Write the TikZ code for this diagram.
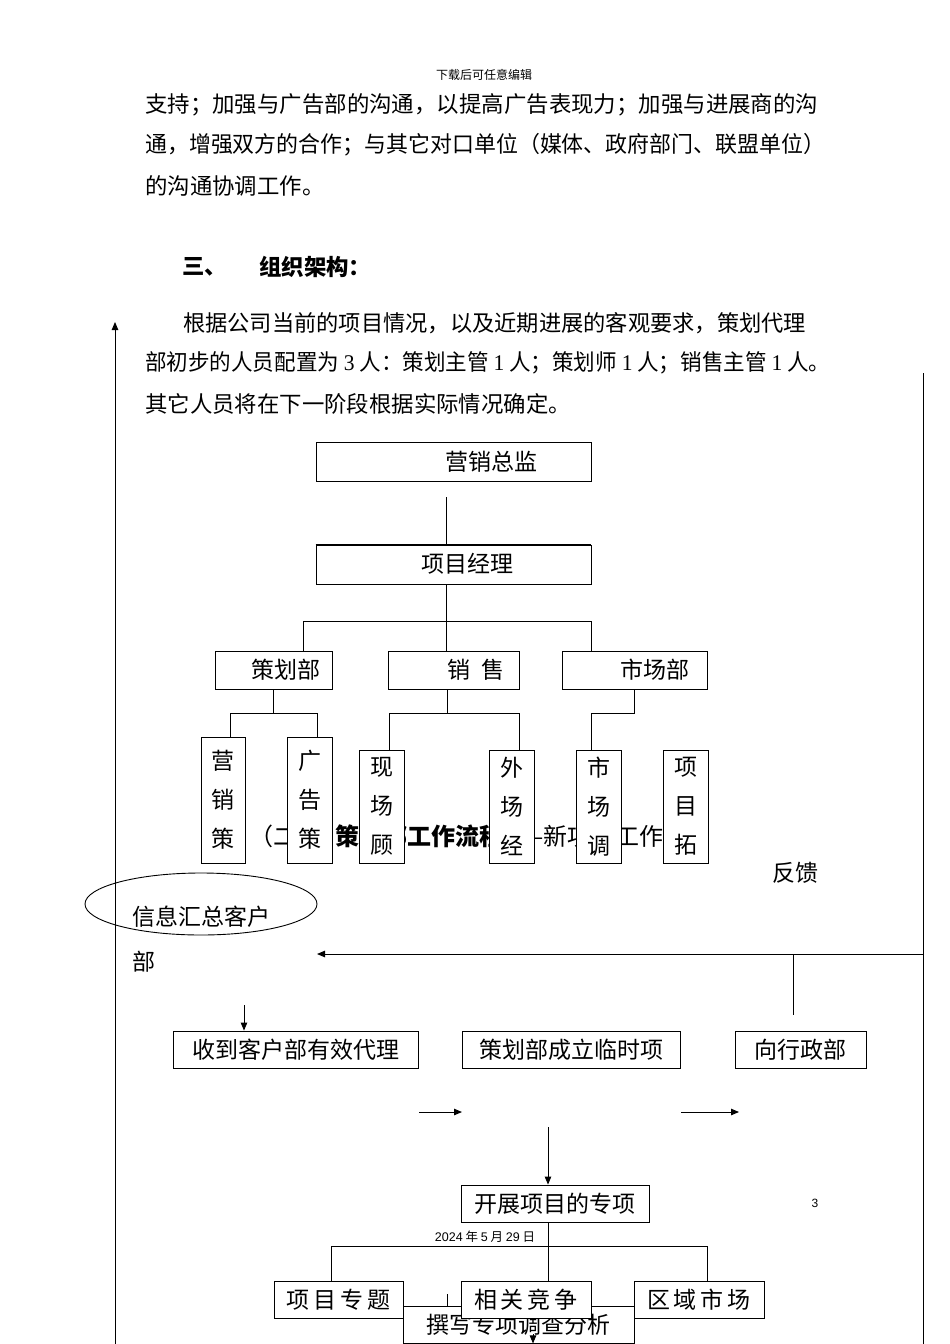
\documentclass[tikz,border=0pt]{standalone}
\usepackage{fontspec}
\usepackage{graphicx}
\setmainfont{Noto Sans CJK SC}
\newfontfamily\ser{Liberation Serif}
\newfontfamily\arl{Liberation Sans}
\usetikzlibrary{arrows.meta,shapes.geometric}
\newcommand\fitw[2]{\resizebox{#1pt}{\height}{#2}}
\begin{document}
\begin{tikzpicture}[x=1pt,y=-1pt,
  ln/.style={line width=0.9pt},
  bx/.style={draw,line width=0.9pt,fill=white,inner sep=0pt,font=\fontsize{23}{26}\selectfont},
  vbx/.style={bx,align=center,font=\fontsize{23}{39}\selectfont},
  tx/.style={inner sep=0pt,font=\fontsize{23}{26}\selectfont},
  body/.style={inner sep=0pt,anchor=west,font=\fontsize{22.4}{26}\selectfont},
  small/.style={inner sep=0pt,font=\fontsize{12}{14}\selectfont},
  arr/.style={ln,-{Triangle[length=8pt,width=6.5pt]}},
]
\useasboundingbox (0,0) rectangle (950,1344);

% ---------- header and text ----------
\node[small] (hdr) at (484,75) {下载后可任意编辑};
\node[body] (l1) at (145,105) {\fitw{673}{支持；加强与广告部的沟通，以提高广告表现力；加强与进展商的沟}};
\node[body] (l2) at (145,145) {\fitw{680}{通，增强双方的合作；与其它对口单位（媒体、政府部门、联盟单位）}};
\node[body] (l3) at (145,186) {的沟通协调工作。};
\node[body,font=\fontsize{22.4}{26}\selectfont\bfseries] (h1) at (182,267) {三、};
\node[body,font=\fontsize{22.4}{26}\selectfont\bfseries] (h2) at (259,267) {组织架构：};
\node[body] (p1) at (183,323) {\fitw{623}{根据公司当前的项目情况，以及近期进展的客观要求，策划代理}};
\node[body] (p2) at (145,363) {\fitw{685}{部初步的人员配置为 {\ser 3} 人：策划主管 {\ser 1} 人；策划师 {\ser 1} 人；销售主管 {\ser 1} 人。}};
\node[body] (p3) at (145,404) {其它人员将在下一阶段根据实际情况确定。};

% ---------- side lines ----------
\coordinate (lb) at (115,1344);
\coordinate (lt) at (115,322);
\draw[arr] (lb) -- (lt);
\coordinate (rt) at (923,373);
\coordinate (rb) at (923,1344);
\draw[ln] (rt) -- (rb);

% ---------- org chart ----------
\node[bx,minimum width=275pt,minimum height=39pt] (zj) at (453.5,461.5) {};
\node[tx] (zjt) at (491,462) {营销总监};
\node[bx,minimum width=275pt,minimum height=39pt] (xm) at (453.5,564.5) {};
\draw[line width=1.6pt] (xm.north west) -- (xm.north east);
\node[tx] (xmt) at (467,564) {项目经理};
\coordinate (t1) at (446,497);
\draw[ln] (t1) -- (t1 |- xm.north);

\node[bx,minimum width=117pt,minimum height=38pt] (ch) at (273.5,670) {};
\node[tx] (cht) at (286,670) {策划部};
\node[bx,minimum width=131pt,minimum height=38pt] (xs) at (453.5,670) {};
\node[tx] (xst) at (476,670) {销\hspace{12pt}售};
\node[bx,minimum width=145pt,minimum height=38pt] (sc) at (634.5,670) {};
\node[tx] (sct) at (655,670) {市场部};

\coordinate (j0) at (446,621);
\coordinate (ja) at (303,621);
\coordinate (jb) at (591,621);
\draw[ln] (j0 |- xm.south) -- (j0 |- xs.north);
\draw[ln] (ja |- ch.north) -- (ja) -- (jb) -- (jb |- sc.north);

% overlay title (partly hidden by boxes)
\node[inner sep=0pt,anchor=west,font=\fontsize{24}{26}\selectfont] (ttl0) at (249,836) {（二）};
\node[inner sep=0pt,anchor=west,font=\fontsize{24}{26}\selectfont] (ttl) at (335,836)
  {{\bfseries 策划部工作流程}——新项目工作};

\node[vbx,minimum width=44pt,minimum height=126pt] (b1) at (223,800) {营\\销\\策};
\node[vbx,minimum width=45pt,minimum height=126pt] (b2) at (309.5,800) {广\\告\\策};
\node[vbx,minimum width=45pt,minimum height=113pt] (b3) at (381.5,806.5) {现\\场\\顾};
\node[vbx,minimum width=45pt,minimum height=113pt] (b4) at (511.5,806.5) {外\\场\\经};
\node[vbx,minimum width=45pt,minimum height=113pt] (b5) at (598.5,806.5) {市\\场\\调};
\node[vbx,minimum width=45pt,minimum height=113pt] (b6) at (685.5,806.5) {项\\目\\拓};

\coordinate (k1) at (273,713);
\coordinate (k1a) at (230,713);
\coordinate (k1b) at (317,713);
\draw[ln] (k1 |- ch.south) -- (k1);
\draw[ln] (k1a |- b1.north) -- (k1a) -- (k1b) -- (k1b |- b2.north);
\coordinate (k2) at (447,713);
\coordinate (k2a) at (389,713);
\coordinate (k2b) at (519,713);
\draw[ln] (k2 |- xs.south) -- (k2);
\draw[ln] (k2a |- b3.north) -- (k2a) -- (k2b) -- (k2b |- b4.north);
\coordinate (k3) at (634,713);
\coordinate (k3a) at (591,713);
\draw[ln] (k3 |- sc.south) -- (k3) -- (k3a) -- (k3a |- b5.north);

% ---------- flow ----------
\node[tx] (fk) at (795,873) {反馈};
\node[draw,ellipse,ln,inner sep=0pt,minimum width=232pt,minimum height=62pt] (el) at (201,904) {};
\node[tx,anchor=west] (xx1) at (132,917) {信息汇总客户};
\node[tx,anchor=west] (xx2) at (132,962) {部};

\coordinate (f1) at (923,954);
\coordinate (f2) at (317,954);
\draw[arr] (f1) -- (f2);
\coordinate (f3) at (793,954);

\node[bx,minimum width=245pt,minimum height=37pt] (sd) at (295.5,1049.5) {收到客户部有效代理};
\node[bx,minimum width=218pt,minimum height=37pt] (cl) at (571,1049.5) {策划部成立临时项};
\node[bx,minimum width=131pt,minimum height=37pt] (xz) at (800.5,1049.5) {向行政部};
\draw[ln] (f3) -- ([yshift=16pt]f3 |- xz.north);

\coordinate (d1) at (244,1005);
\draw[arr] (d1) -- (d1 |- sd.north);
\coordinate (a1) at (419,1112);
\coordinate (a2) at (462,1112);
\draw[arr] (a1) -- (a2);
\coordinate (a3) at (681,1112);
\coordinate (a4) at (739,1112);
\draw[arr] (a3) -- (a4);

\node[bx,minimum width=188pt,minimum height=37pt] (kz) at (555,1203.5) {开展项目的专项};
\coordinate (v1) at (548,1127);
\draw[arr] (v1) -- (v1 |- kz.north);
\node[inner sep=0pt,font=\arl\fontsize{12}{14}\selectfont] (pg) at (815,1203) {3};
\node[inner sep=0pt,font=\fontsize{12.5}{14}\selectfont] (dt) at (485,1237) {{\arl 2024} 年 {\arl 5} 月 {\arl 29} 日};

\node[bx,minimum width=231pt,minimum height=37pt] (zx) at (518.5,1324.5) {撰写专项调查分析};
\coordinate (s0) at (548,1246);
\coordinate (sa) at (331,1246);
\coordinate (sb) at (707,1246);
\node[bx,minimum width=129pt,minimum height=37pt] (zt) at (338.5,1299.5) {项\hspace{4pt}目\hspace{4pt}专\hspace{4pt}题};
\node[bx,minimum width=130pt,minimum height=37pt] (jz) at (526,1299.5) {相\hspace{4pt}关\hspace{4pt}竞\hspace{4pt}争};
\node[bx,minimum width=130pt,minimum height=37pt] (qy) at (699,1299.5) {区\hspace{4pt}域\hspace{4pt}市\hspace{4pt}场};
\draw[ln] (s0 |- kz.south) -- (s0 |- jz.north);
\draw[ln] (sa |- zt.north) -- (sa) -- (sb) -- (sb |- qy.north);
\coordinate (tk) at (447,1294);
\draw[ln] (tk) -- (tk |- zx.north);
\coordinate (z1) at (533,1334);
\draw[arr] (z1) -- (z1 |- zx.south);
\end{tikzpicture}
\end{document}
